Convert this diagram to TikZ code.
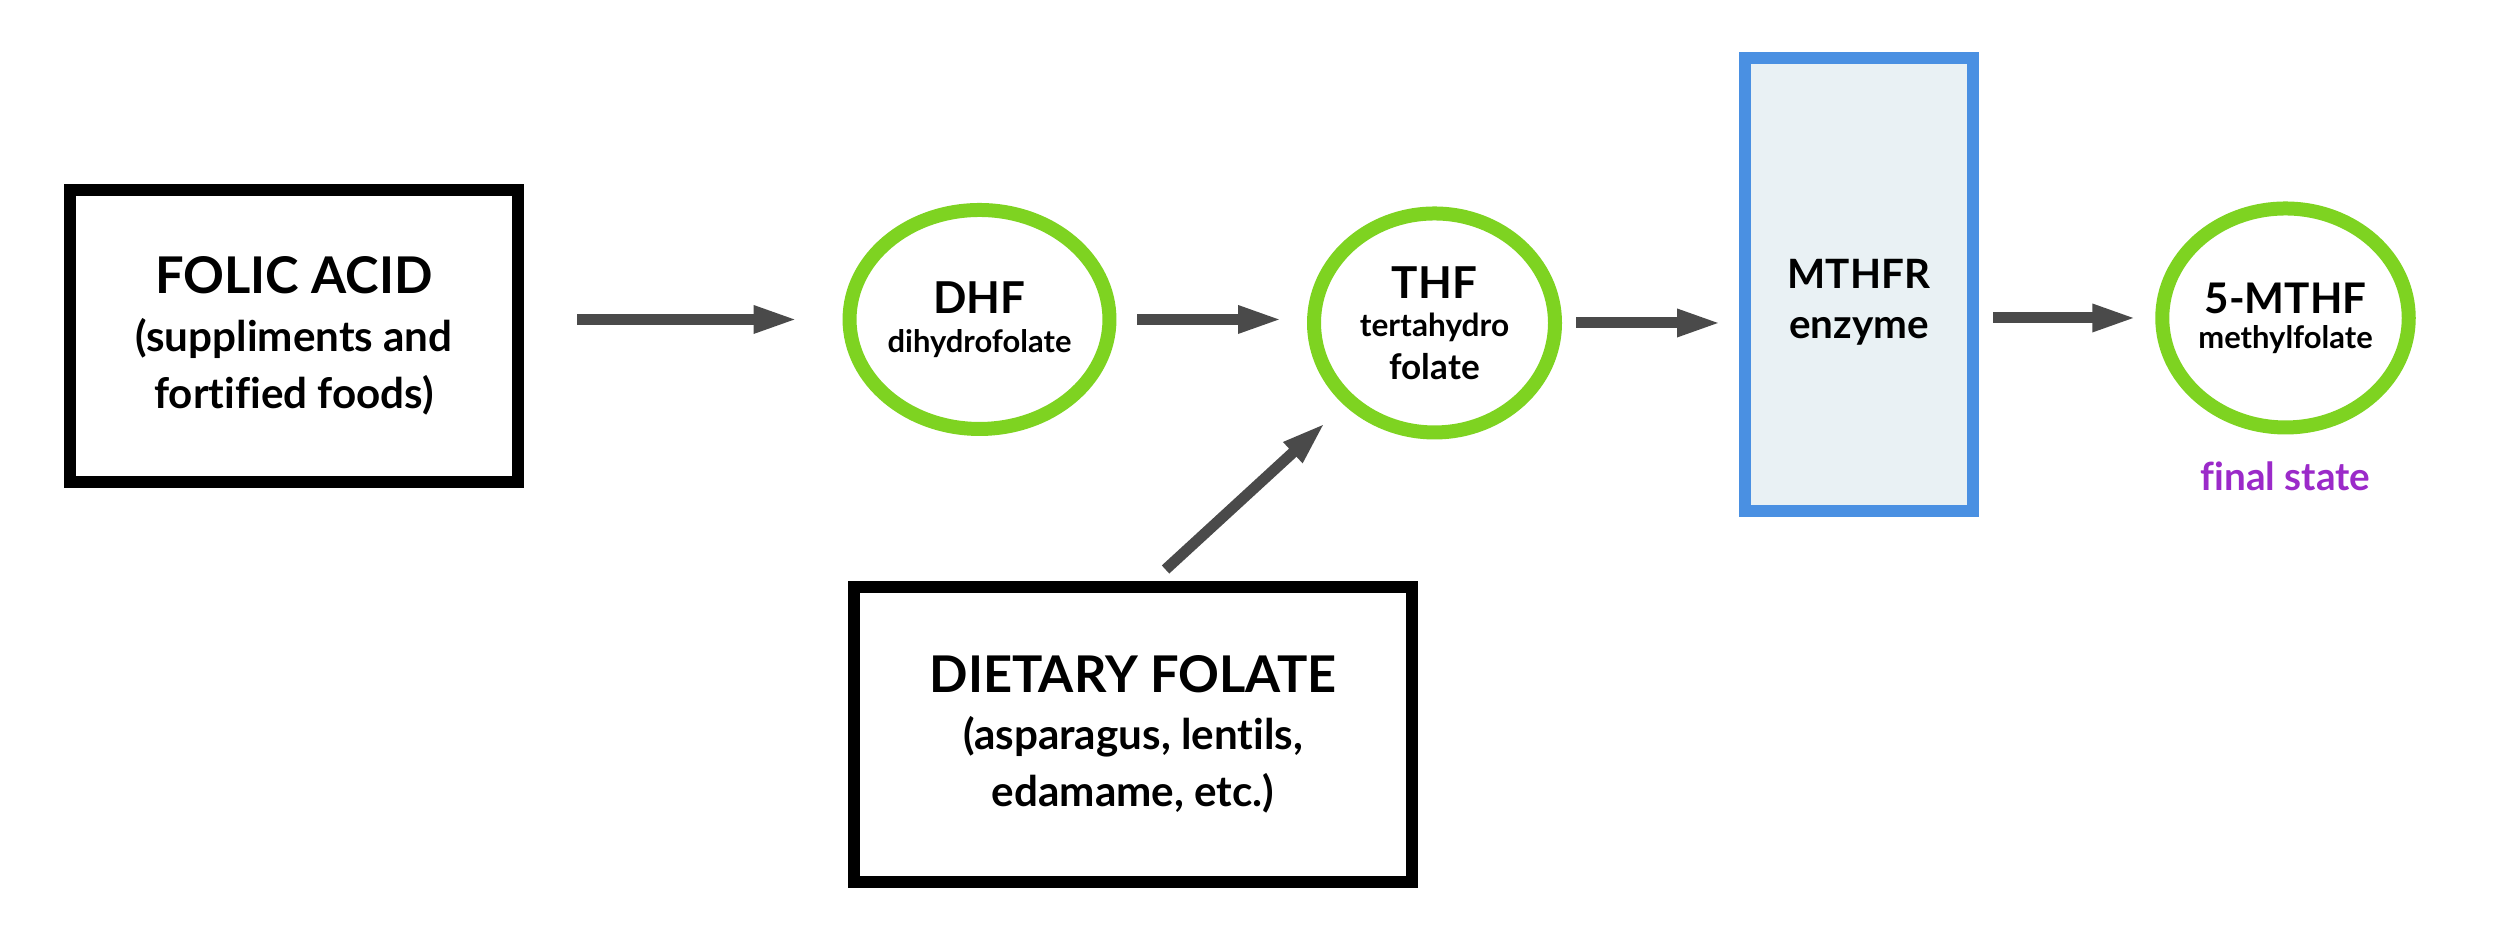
\documentclass[tikz,border=0pt]{standalone}
\usepackage{fontspec}
\setmainfont{Lato}[Ligatures=NoCommon]
\usetikzlibrary{positioning,arrows.meta,shapes.geometric}

\definecolor{folgreen}{HTML}{7ED321}
\definecolor{enzblue}{HTML}{4A90E2}
\definecolor{enzfill}{HTML}{E9F1F4}
\definecolor{arrgrey}{HTML}{4A4A4A}
\definecolor{finalpurple}{HTML}{9B2AC9}

\newcommand{\fs}[2]{\fontsize{#1}{#2}\selectfont}

\tikzset{
  srcbox/.style={draw=black,line width=1.2mm,rectangle,align=center,
    font=\bfseries\fs{12}{16.3}},
  folate/.style={draw=folgreen,line width=1.4mm,ellipse,inner sep=0pt,
    minimum width=24.1mm,minimum height=21.9mm,align=center,font=\bfseries},
  enzbox/.style={draw=enzblue,fill=enzfill,line width=1.2mm,rectangle,
    minimum width=22.8mm,minimum height=45.3mm},
  flow/.style={draw=arrgrey,line width=1.1mm,
    -{Triangle[length=4.5mm,width=2.5mm]}}
}

\begin{document}
\begin{tikzpicture}
  \useasboundingbox (0,0) rectangle (25,9.25);
  % sources
  \node[srcbox,minimum width=44.8mm,minimum height=29.2mm] (folic) at (2.94,5.89)
    {{\fs{14.4}{17}FOLIC ACID}\\(suppliments and\\fortified foods)};
  \node[srcbox,minimum width=55.8mm,minimum height=29.5mm] (diet) at (11.33,1.905)
    {{\fs{14.4}{17}DIETARY FOLATE}\\(asparagus, lentils,\\edamame, etc.)};
  % folate forms
  \node[folate] (dhf) at (9.795,6.055)
    {{\fs{12.5}{14}DHF}\\[-1pt]\fs{8.8}{10}dihydrofolate};
  \node[folate] (thf) at (14.345,6.02)
    {{\fs{12.5}{14}THF}\\[-1pt]\fs{9}{11.3}tertahydro\\folate};
  \node[enzbox] (mthfr) at (18.59,6.405) {};
  \node[align=center,font=\bfseries\fs{11.5}{14.2}] (mthfrtxt)
    at ([yshift=-1.8mm]mthfr.center) {MTHFR\\enzyme};
  \node[folate] (mthf) at (22.855,6.07)
    {{\fs{12}{14}5-MTHF}\\[-2pt]\fs{8.8}{10}methylfolate};
  \node[text=finalpurple,font=\bfseries\fs{11}{13}] (final) at (22.855,4.49) {final state};
  % conversions
  \draw[flow,shorten <=5.3mm,shorten >=4.4mm] (folic.east |- dhf.west) -- (dhf.west);
  \draw[flow,shorten <=2.1mm,shorten >=2.4mm] (dhf.east) -- (dhf.east -| thf.west);
  \draw[flow,shorten <=1.4mm,shorten >=1.7mm] (thf.east) -- (thf.east -| mthfr.west);
  \draw[flow,shorten <=1.4mm,shorten >=1.8mm] (mthfr.east |- mthf.west) -- (mthf.west);
  \draw[flow,shorten <=1.7mm,shorten >=2.5mm] ([xshift=2mm]diet.north) -- (thf.south west);
\end{tikzpicture}
\end{document}
